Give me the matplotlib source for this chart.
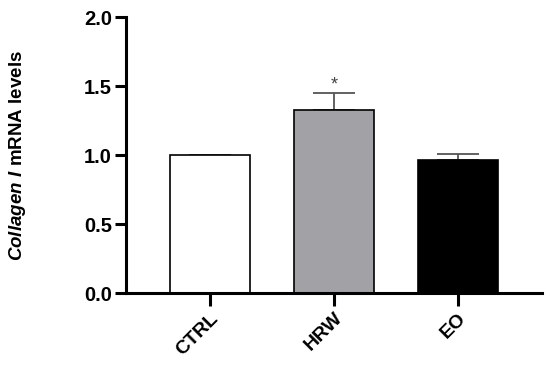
import matplotlib
matplotlib.use("Agg")
import matplotlib.pyplot as plt

groups = ["CTRL", "HRW", "EO"]
means = [1.0, 1.325, 0.962]
errors = [0.0, 0.122, 0.043]
colors = ["white", "#a2a2a6", "black"]

plt.rcParams["font.family"] = "Liberation Sans"
plt.rcParams["font.weight"] = "bold"
plt.rcParams["mathtext.fontset"] = "custom"
plt.rcParams["mathtext.it"] = "Liberation Sans:italic:bold"
plt.rcParams["mathtext.rm"] = "Liberation Sans:bold"

fig = plt.figure(figsize=(5.5, 3.67), dpi=100)
ax = fig.add_axes([0.229, 0.2016, 0.756, 0.752])

x = range(len(groups))
ax.bar(x, means, width=0.65, color=colors, edgecolor="black", linewidth=1.2, zorder=2)
# upper-only error bars
ax.errorbar(x, means, yerr=[[0] * 3, errors], fmt="none", ecolor="#555555",
            elinewidth=1.3, capsize=15, capthick=1.3, zorder=1)
ax.text(1, 1.505, "*", ha="center", va="center",
        fontsize=13, color="#444444", fontweight="normal")

ax.set_xlim(-0.677, 2.677)
ax.set_ylim(0, 2.0)
ax.set_yticks([0, 0.5, 1.0, 1.5, 2.0])
ax.set_yticklabels(["0.0", "0.5", "1.0", "1.5", "2.0"])
ax.set_xticks(list(x))
ax.set_xticklabels(groups, rotation=45, ha="right", rotation_mode="anchor")

for s in ["top", "right"]:
    ax.spines[s].set_visible(False)
for s in ["left", "bottom"]:
    ax.spines[s].set_linewidth(2.2)
ax.tick_params(axis="y", width=2.2, length=8, labelsize=14.5, pad=2)
ax.tick_params(axis="x", width=2.2, length=9, labelsize=14, pad=3)

ax.set_ylabel(r"$\mathit{Collagen\ I}$ mRNA levels", fontsize=13.5, fontweight="bold")
ax.yaxis.set_label_coords(-0.2356, 0.5)

fig.savefig("out.png", dpi=100)
